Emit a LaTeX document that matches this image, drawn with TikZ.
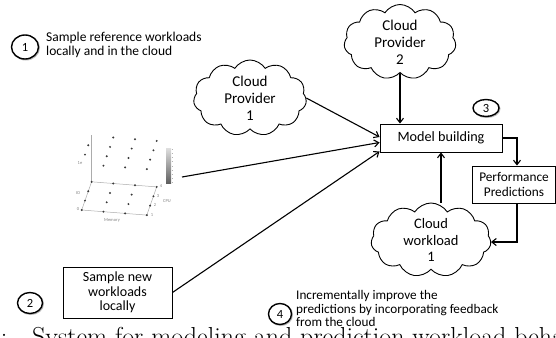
\documentclass[tikz,border=0pt]{standalone}
\usepackage{fontspec}
\newfontfamily\calib{Carlito}
\usetikzlibrary{shapes.symbols,shapes.geometric,arrows.meta,backgrounds}
\begin{document}
\begin{tikzpicture}[x=1pt,y=-1pt,
  cloudnode/.style={cloud, draw=black, line width=0.9pt, fill=white,
    cloud puffs=11, cloud puff arc=115, cloud ignores aspect,
    align=center, inner sep=0pt},
  boxnode/.style={draw=black, line width=0.9pt, fill=white, align=center, inner sep=0pt},
  badge/.style={ellipse, draw=black, line width=1.4pt, fill=white, inner sep=0pt,
    font=\calib\fontsize{12.5}{13}\selectfont},
  badgeshadow/.style={ellipse, draw=gray!55, line width=1.4pt, inner sep=0pt},
  note/.style={align=left, inner sep=0pt, anchor=west,
    font=\calib\fontsize{13.5}{14}\selectfont},
  conn/.style={draw=black, line width=1.1pt, -{Straight Barb[length=4.5pt,width=7pt]}},
  plotline/.style={draw=gray!65, line width=0.5pt},
  plotdot/.style={circle, fill=gray!45!black, inner sep=0pt, minimum size=2.2pt},
  plotlabel/.style={font=\calib\fontsize{4.5}{5}\selectfont, text=gray, inner sep=0pt}
]
\clip (0,0) rectangle (556,337);
\useasboundingbox (0,0) rectangle (556,337);

% ---- numbered step markers and their notes ----
\node[badgeshadow, minimum width=27pt, minimum height=24pt] at (25.8,47.8) {};
\node[badge, minimum width=27pt, minimum height=24pt] (b1) at (25,47) {1};
\node[note] (n1) at (46,45) {Sample reference workloads\\locally and in the cloud};

\node[badgeshadow, minimum width=25pt, minimum height=21pt] at (30.8,303.8) {};
\node[badge, minimum width=25pt, minimum height=21pt] (b2) at (30,303) {2};

\node[badgeshadow, minimum width=26pt, minimum height=17pt] at (486.8,108.8) {};
\node[badge, minimum width=26pt, minimum height=17pt] (b3) at (486,108) {3};

\node[badgeshadow, minimum width=23pt, minimum height=21pt] at (280.8,314.8) {};
\node[badge, minimum width=23pt, minimum height=21pt] (b4) at (280,314) {4};
\node[note, font=\calib\fontsize{13.2}{13.5}\selectfont] (n4) at (296,308.5)
  {Incrementally improve the\\predictions by incorporating feedback\\from the cloud};

% ---- clouds ----
\node[cloudnode, minimum width=113pt, minimum height=76pt,
  font=\calib\fontsize{15}{17}\selectfont] (cp1) at (250,98) {Cloud\\Provider\\1};
\node[cloudnode, minimum width=112pt, minimum height=75pt,
  font=\calib\fontsize{15}{17}\selectfont] (cp2) at (400,42) {Cloud\\Provider\\2};
\node[cloudnode, minimum width=120pt, minimum height=74pt,
  font=\calib\fontsize{14.5}{16.5}\selectfont] (cw1) at (431,240) {Cloud\\workload\\1};

% ---- boxes ----
\node[boxnode, minimum width=122pt, minimum height=28pt,
  font=\calib\fontsize{14.2}{16}\selectfont] (model) at (441,138) {Model building};
\node[boxnode, minimum width=83pt, minimum height=37pt,
  font=\calib\fontsize{13.3}{15}\selectfont] (perf) at (514,184.5) {Performance\\Predictions};
\node[boxnode, minimum width=109pt, minimum height=51pt,
  font=\calib\fontsize{14}{14.6}\selectfont] (sample) at (117.5,292.5) {Sample new\\workloads\\locally};

% ---- 3D scatter plot of sampled configurations ----
\begin{scope}
  \def\ox{81.7}\def\oy{210}
  \draw[plotline] (81.7,210) -- (146.8,215.1) -- (156.7,186.9) -- (91.6,181.8) -- cycle;
  \draw[plotline] (91.6,181.8) -- (91.6,135);
  \foreach \i in {0,1,2,3}{
    \foreach \j in {0,1,2,3}{
      \pgfmathsetmacro{\px}{\ox+21.7*\i+3.3*\j}
      \pgfmathsetmacro{\py}{\oy+1.7*\i-9.4*\j}
      \node[plotdot] at (\px,\py) {};
    }
  }
  \foreach \i/\j in {1/0,2/0,3/0,0/1,1/1,2/1,3/1,0/2,1/2,2/2,3/2,1/3,2/3,3/3}{
    \pgfmathsetmacro{\px}{\ox+21.7*\i+3.3*\j}
    \pgfmathsetmacro{\py}{\oy+1.7*\i-9.4*\j-46}
    \node[plotdot] at (\px,\py) {};
  }
  \shade[top color=gray!25, bottom color=gray!75!black] (166,148) rectangle (171,183);
  \foreach \t in {0,...,8}{
    \draw[gray!60, line width=0.3pt] (171.5,149+4.2*\t) -- (173,149+4.2*\t);
  }
  \node[plotlabel] at (80,163) {1e};
  \node[plotlabel] at (78,193) {IO};
  \node[plotlabel] at (78,209) {0};
  \node[plotlabel] at (167,201) {CPU};
  \node[plotlabel] at (112,220) {Memory};
  \node[plotlabel] at (161,186) {4};
  \node[plotlabel] at (158,196) {3};
  \node[plotlabel] at (155,205) {2};
  \node[plotlabel] at (152,215) {1};
  \coordinate (plotout) at (182,177);
\end{scope}

% ---- connectors ----
\begin{scope}[on background layer]
  \draw[conn] (cp2.south) -- (cp2.south |- model.north);
  \draw[conn] (cp1.east) -- ([yshift=1pt]model.west);
  \draw[conn] (plotout) -- ([yshift=-4.5pt]model.west);
  \draw[conn] (sample.east) -- ([yshift=1pt]model.south west);
  \draw[conn] (model.south |- cw1.north) -- (model.south);
  \draw[conn] (model.east) -| ([xshift=3pt]perf.north);
  \draw[conn] ([xshift=3pt]perf.south) |- ([yshift=-2pt]cw1.east);
\end{scope}

% ---- figure caption, cut off at the lower edge ----
\node[anchor=base east, inner sep=0pt, font=\fontsize{26}{30}\selectfont] (caplbl) at (7.5,345) {2:};
\node[anchor=base west, inner sep=0pt, font=\fontsize{26}{30}\selectfont] (cap) at (32,345)
  {System for modeling and prediction workload behavior};
\end{tikzpicture}
\end{document}
